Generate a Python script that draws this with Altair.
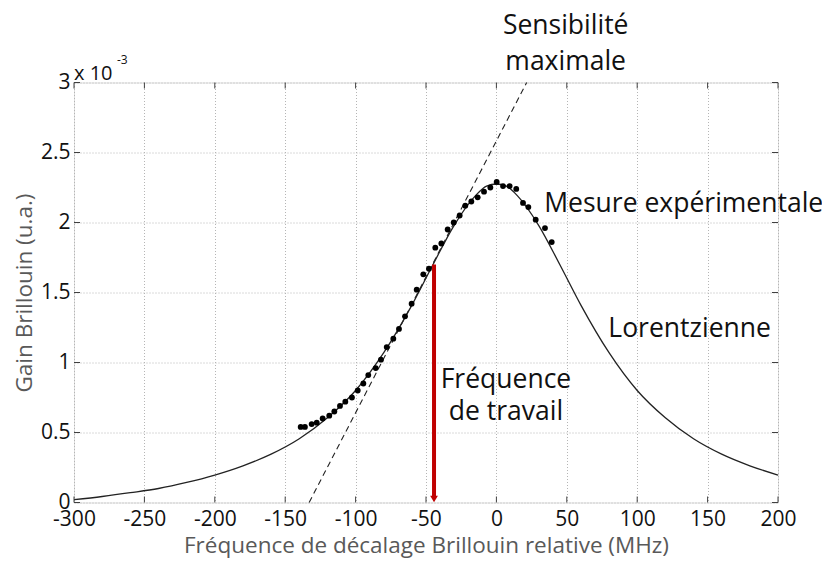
import altair as alt
import pandas as pd

FONT = "Open Sans"

# Lorentzian fit (gain in units of 1e-3)
curve_x = [-300, -280, -260, -240, -220, -200, -180, -160, -140, -120, -100, -80, -60, -45, -30, -15, -7, 0, 7, 15, 30, 45, 60, 80, 100, 120, 140, 160, 180, 200]
curve_y = [0.020, 0.043, 0.070, 0.100, 0.143, 0.196, 0.262, 0.345, 0.455, 0.605, 0.80, 1.07, 1.41, 1.70, 1.98, 2.19, 2.26, 2.275, 2.26, 2.19, 1.98, 1.70, 1.41, 1.07, 0.80, 0.605, 0.455, 0.345, 0.262, 0.196]

# Experimental measurement points
meas_x = [-139, -136, -131.2, -127.6, -123.4, -118.7, -115.1, -111.1, -107.3, -102.6, -98.5, -94.5, -91, -85.7, -82, -77.9, -73.2, -69.2, -64.9, -60.2, -56.6,
          -51.9, -47.9, -43.4, -39.1, -34.6, -30.3, -26.1, -22.1, -17.8, -13.3, -8.8, -4.3, 0.2, 4.7, 9.4, 14.1, 18.9, 22.7, 27.9, 34.5, 39.3]
meas_y = [0.54, 0.54, 0.56, 0.57, 0.60, 0.62, 0.65, 0.69, 0.72, 0.75, 0.80, 0.85, 0.91, 0.96, 1.02, 1.11, 1.17, 1.24, 1.33, 1.42, 1.52,
          1.63, 1.67, 1.82, 1.85, 1.95, 2.00, 2.05, 2.12, 2.15, 2.18, 2.22, 2.25, 2.29, 2.26, 2.26, 2.24, 2.14, 2.11, 2.02, 1.96, 1.86]

# Tangent of maximal sensitivity
tangent_x = [-133, 21.5]
tangent_y = [0, 3]

# Working frequency arrow
work_x = [-44.3]
work_top = [1.70]
work_bottom = [0.04]
work_head = [0.025]

x_ticks = [-300, -250, -200, -150, -100, -50, 0, 50, 100, 150, 200]
y_ticks = [0, 0.5, 1, 1.5, 2, 2.5, 3]

# Annotations
ann_center_text = ["Sensibilité", "maximale", "Fréquence", "de travail"]
ann_center_x = [49.2, 49.2, 6.8, 6.8]
ann_center_y = [3.344, 3.089, 0.818, 0.589]
ann_left_text = ["Mesure expérimentale", "Lorentzienne"]
ann_left_x = [34.0, 79.5]
ann_left_y = [2.077, 1.184]

exp_text = ["x 10", "-3"]
exp_x = [-300, -269.5]
exp_y = [3.018, 3.13]

W, H = 704, 420

xs = alt.Scale(domain=[-300, 200], nice=False, zero=False)
ys = alt.Scale(domain=[0, 3], nice=False, zero=True)

curve_df = pd.DataFrame({"x": curve_x, "y": curve_y})
meas_df = pd.DataFrame({"x": meas_x, "y": meas_y})
tan_df = pd.DataFrame({"x": tangent_x, "y": tangent_y})
work_df = pd.DataFrame({"x": work_x, "y": work_top, "bottom": work_bottom, "head": work_head})
xt_df = pd.DataFrame({"x": x_ticks})
yt_df = pd.DataFrame({"y": y_ticks})
ac_df = pd.DataFrame({"t": ann_center_text, "x": ann_center_x, "y": ann_center_y})
al_df = pd.DataFrame({"t": ann_left_text, "x": ann_left_x, "y": ann_left_y})
ex_df = pd.DataFrame({"t": exp_text, "x": exp_x, "y": exp_y})

x_axis = alt.Axis(values=x_ticks, title="Fréquence de décalage Brillouin relative (MHz)",
                  labelExpr="'' + datum.value",
                  grid=True, gridDash=[1, 2], gridColor="#b5b5b5", gridWidth=1,
                  ticks=False, domain=False, labelFont=FONT, labelFontSize=21,
                  labelColor="#111111", labelPadding=6, labelFlush=False,
                  titleFont=FONT, titleFontSize=22.5, titleFontWeight="normal",
                  titleColor="#595959", titlePadding=5)
y_axis = alt.Axis(values=y_ticks, title="Gain Brillouin (u.a.)", labelExpr="'' + datum.value",
                  grid=True, gridDash=[1, 2], gridColor="#b5b5b5", gridWidth=1,
                  ticks=False, domain=False, labelFont=FONT, labelFontSize=21,
                  labelColor="#111111", labelPadding=4, labelFlush=False,
                  titleFont=FONT, titleFontSize=22.5, titleFontWeight="normal",
                  titleColor="#595959", titlePadding=4)


def X(field="x"):
    return alt.X(f"{field}:Q", scale=xs, axis=x_axis)


def Y(field="y"):
    return alt.Y(f"{field}:Q", scale=ys, axis=y_axis)


curve = alt.Chart(curve_df).mark_line(color="#222222", strokeWidth=1.3, interpolate="monotone").encode(
    x=X(), y=Y())

tangent = alt.Chart(tan_df).mark_line(color="#222222", strokeWidth=1.1, strokeDash=[6, 4]).encode(
    x=X(), y=Y())

points = alt.Chart(meas_df).mark_circle(color="#000000", size=34, opacity=1).encode(
    x=X(), y=Y())

arrow = alt.Chart(work_df).mark_rule(color="#c00000", strokeWidth=4).encode(
    x=X(), y=Y(), y2="bottom:Q")
head = alt.Chart(work_df).mark_point(shape="triangle-down", filled=True, color="#c00000", size=60, opacity=1).encode(
    x=X(), y=Y("head"))

tick_col = "#404040"
bt = alt.Chart(xt_df).mark_rule(color=tick_col, strokeWidth=1).encode(
    x=X(), y=alt.value(H), y2=alt.value(H - 6))
tt = alt.Chart(xt_df).mark_rule(color=tick_col, strokeWidth=1).encode(
    x=X(), y=alt.value(0), y2=alt.value(6))
lt = alt.Chart(yt_df).mark_rule(color=tick_col, strokeWidth=1).encode(
    y=Y(), x=alt.value(0), x2=alt.value(6))
rt = alt.Chart(yt_df).mark_rule(color=tick_col, strokeWidth=1).encode(
    y=Y(), x=alt.value(W), x2=alt.value(W - 6))

txt_c = alt.Chart(ac_df).mark_text(font=FONT, fontSize=26.5, color="#111111", align="center",
                                   baseline="alphabetic").encode(x=X(), y=Y(), text="t:N")
txt_l = alt.Chart(al_df).mark_text(font=FONT, fontSize=26.5, color="#111111", align="left",
                                   baseline="alphabetic").encode(x=X(), y=Y(), text="t:N")

exp_main = alt.Chart(ex_df.iloc[[0]]).mark_text(font=FONT, fontSize=20, color="#111111", align="left",
                                                baseline="alphabetic").encode(x=X(), y=Y(), text="t:N")
exp_sup = alt.Chart(ex_df.iloc[[1]]).mark_text(font=FONT, fontSize=12, color="#111111", align="left",
                                               baseline="alphabetic").encode(x=X(), y=Y(), text="t:N")

chart = alt.layer(curve, tangent, points, arrow, head, bt, tt, lt, rt, txt_c, txt_l, exp_main, exp_sup).properties(
    width=W, height=H,
    autosize=alt.AutoSizeParams(type="none"),
    padding={"left": 66, "top": 74.5, "right": 44, "bottom": 60},
).configure_view(stroke="#8c8c8c", strokeWidth=1).configure(background="white")

chart.save("out.html", embed_options={"renderer": "svg", "actions": False})
